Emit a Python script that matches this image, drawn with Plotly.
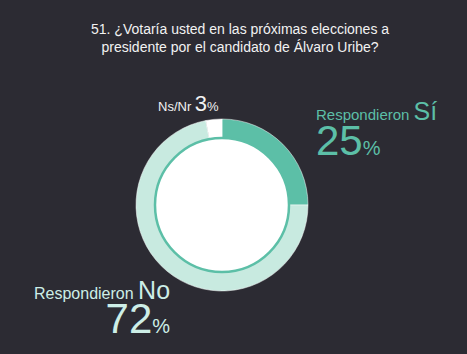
import plotly.graph_objects as go

categories = ["Respondieron Sí", "Respondieron No", "Ns/Nr"]
values = [25, 72, 3]
colors = ["#5cbfa7", "#c8eae0", "#ffffff"]
title_lines = ["51. ¿Votaría usted en las próximas elecciones a",
               "presidente por el candidato de Álvaro Uribe?"]

W, H = 467, 354
cx, cy, R, r_in = 222, 205, 86, 67
BG = "#2c2b33"

fig = go.Figure(go.Pie(
    labels=categories, values=values, sort=False, direction="clockwise",
    rotation=0, hole=0.78, textinfo="none", hoverinfo="label+percent",
    marker=dict(colors=colors, line=dict(color="#ffffff", width=0.5)),
    domain=dict(x=[(cx - R) / W, (cx + R) / W],
                y=[(H - cy - R) / H, (H - cy + R) / H]),
    showlegend=False,
))

fig.add_shape(type="circle", xref="paper", yref="paper",
              x0=(cx - r_in) / W, x1=(cx + r_in) / W,
              y0=(H - cy - r_in) / H, y1=(H - cy + r_in) / H,
              fillcolor="#ffffff", line=dict(color="#5cbfa7", width=2.5))

font = "Liberation Sans, Arial, sans-serif"
fig.add_annotation(x=240 / W, y=1 - 38 / H, xref="paper", yref="paper",
                   text="<br>".join(title_lines), showarrow=False,
                   font=dict(family=font, size=14, color="#f2f2f2"),
                   align="center", xanchor="center", yanchor="middle")

teal = "#5cbfa7"
light = "#cdeee7"


def block(cat, val, small):
    word, ans = cat.split()
    return (f"<span style='font-size:{small}px'>{word} </span>"
            f"<span style='font-size:25px'>{ans}</span><br>"
            f"<span style='font-size:42px'>{val}</span>"
            f"<span style='font-size:20px'>%</span>")


fig.add_annotation(x=314 / W, y=1 - 130 / H, xref="paper", yref="paper",
                   text=block(categories[0], values[0], 15),
                   showarrow=False, xanchor="left", yanchor="middle", align="left",
                   font=dict(family=font, size=27, color=teal))

fig.add_annotation(x=172 / W, y=1 - 309 / H, xref="paper", yref="paper",
                   text=block(categories[1], values[1], 16),
                   showarrow=False, xanchor="right", yanchor="middle", align="right",
                   font=dict(family=font, size=26, color=light))

fig.add_annotation(x=156 / W, y=1 - 104 / H, xref="paper", yref="paper",
                   text=f"{categories[2]} <span style='font-size:22px'>{values[2]}</span><span style='font-size:13px'>%</span>",
                   showarrow=False, xanchor="left", yanchor="middle",
                   font=dict(family=font, size=13, color="#f2f2f2"))

fig.update_layout(width=W, height=H, margin=dict(l=0, r=0, t=0, b=0),
                  paper_bgcolor=BG, plot_bgcolor=BG)
fig.write_html("out.html")
